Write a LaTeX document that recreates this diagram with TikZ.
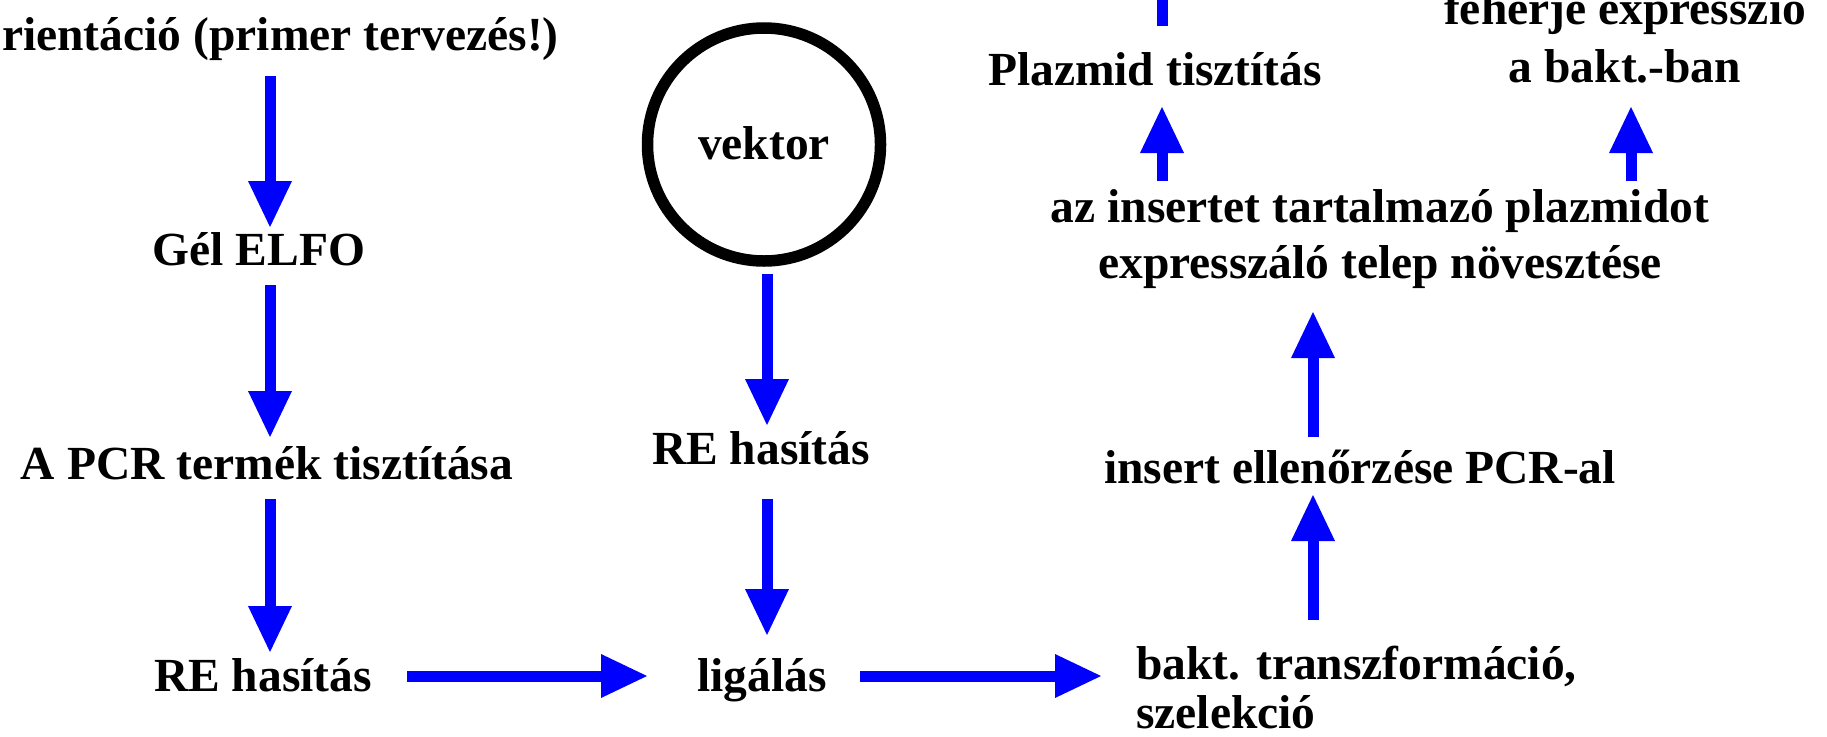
\documentclass[tikz,border=0pt]{standalone}
\usepackage{fontspec}
\setmainfont{Liberation Serif}
\usetikzlibrary{arrows.meta}
\begin{document}
\begin{tikzpicture}[x=1pt,y=-1pt,
  lbl/.style={inner sep=0pt, font=\fontsize{47.5}{56}\selectfont\bfseries, text height=40pt, text depth=10pt},
  arr/.style={draw=blue, line width=11pt, -{Triangle[length=46pt,width=44pt,line width=0pt]}},
  ring/.style={circle, draw=black, line width=11.5pt, minimum size=233pt, inner sep=0pt, text height=40pt, text depth=10pt, font=\fontsize{47.5}{56}\selectfont\bfseries}
]
\useasboundingbox (0,0) rectangle (1827,736);
\clip (0,0) rectangle (1827,736);
\fill[white] (0,0) rectangle (1827,736);

% column coordinates
\coordinate (c1) at (270,0);
\coordinate (c2) at (767,0);
\coordinate (c3) at (1313,0);
\coordinate (c4) at (1162,0);
\coordinate (c5) at (1631,0);
\coordinate (topend) at (1162,-100);

% left column
\node[lbl, anchor=west] (orient) at (2,35) {rientáció (primer tervezés!)};
\node[lbl] (gel) at (259,250) {Gél ELFO};
\node[lbl] (pcr) at (267,464) {A PCR termék tisztítása};
\node[lbl] (re1) at (263,676) {RE hasítás};

% middle column
\node[ring] (vek) at (764,144.5) {vektor};
\node[lbl] (re2) at (761,449) {RE hasítás};
\node[lbl] (lig) at (762,676) {ligálás};

% right part
\node[lbl, align=left, anchor=west, font=\fontsize{47.5}{49}\selectfont\bfseries] (bakt) at (1136,713) {bakt. transzformáció,\\szelekció};
\node[lbl, align=center] (ins) at (1360,468) {insert ellenőrzése PCR-al};
\node[lbl, align=center] (telep) at (1380,263) {az insertet tartalmazó plazmidot\\expresszáló telep növesztése};
\node[lbl] (plaz) at (1155,70) {Plazmid tisztítás};
\node[lbl, align=center, font=\fontsize{47.5}{58}\selectfont\bfseries] (feh) at (1625,67) {fehérje expresszió\\a bakt.-ban};

% arrows
\draw[arr, shorten <=41pt, shorten >=23pt] (orient -| c1) -- (gel -| c1);
\draw[arr, shorten <=35pt, shorten >=27pt] (gel -| c1) -- (pcr -| c1);
\draw[arr, shorten <=35pt, shorten >=24pt] (pcr -| c1) -- (re1 -| c1);
\draw[arr, shorten <=144pt, shorten >=115pt] (re1.center) -- (lig.center);
\draw[arr, shorten <=129.5pt, shorten >=24pt] (vek -| c2) -- (re2 -| c2);
\draw[arr, shorten <=50pt, shorten >=41pt] (re2 -| c2) -- (lig -| c2);
\draw[arr, shorten <=98pt, shorten >=35pt] (lig.center) -- (lig -| bakt.west);
\draw[arr, shorten <=93pt, shorten >=27pt] (bakt -| c3) -- (ins -| c3);
\draw[arr, shorten <=31pt, shorten >=49pt] (ins -| c3) -- (telep -| c3);
\draw[arr, shorten <=82pt, shorten >=37pt] (telep -| c4) -- (plaz -| c4);
\draw[arr, shorten <=82pt, shorten >=40pt] (telep -| c5) -- (feh -| c5);
\draw[arr, shorten <=44pt] (plaz -| c4) -- (topend);
\end{tikzpicture}
\end{document}
